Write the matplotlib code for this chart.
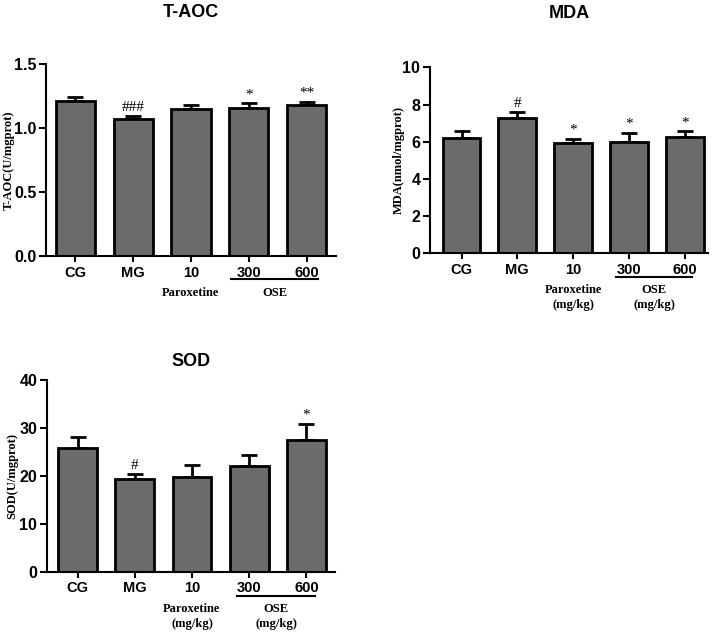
import matplotlib
matplotlib.use("Agg")
import matplotlib.pyplot as plt
import matplotlib.transforms as mtransforms

# Dados
groups = ["CG", "MG", "10", "300", "600"]

taoc_mean = [1.213, 1.068, 1.148, 1.156, 1.177]
taoc_err = [0.031, 0.026, 0.032, 0.037, 0.026]
taoc_marks = ["", "###", "", "*", "**"]

mda_mean = [6.21, 7.29, 5.95, 6.00, 6.27]
mda_err = [0.38, 0.32, 0.21, 0.48, 0.30]
mda_marks = ["", "#", "*", "*", "*"]

sod_mean = [25.9, 19.3, 19.75, 22.05, 27.6]
sod_err = [2.2, 1.2, 2.5, 2.3, 3.4]
sod_marks = ["", "#", "", "", "*"]

SANS = "Liberation Sans"
SERIF = "Liberation Serif"
BAR_COLOR = "#6b6b6b"


def draw_panel(ax, means, errs, marks, ylim, yticks, yticklabels, ylabel, label_x,
               title, title_y, xlim, line_x, line_y, text_y, mgkg):
    x = list(range(len(groups)))
    ax.bar(x, means, width=0.68, color=BAR_COLOR, edgecolor="black", linewidth=2.0, zorder=2)
    ax.errorbar(x, means, yerr=[[0] * len(errs), errs], fmt="none", ecolor="black",
                elinewidth=2.0, capsize=5.5, capthick=2.0, zorder=1)

    # marcadores de significancia
    span = ylim[1] - ylim[0]
    for xi, m, e, s in zip(x, means, errs, marks):
        if s:
            ax.text(xi, m + e + span * 0.01, s, ha="center", va="bottom",
                    family=SERIF, fontsize=11)

    ax.set_xlim(*xlim)
    ax.set_ylim(*ylim)
    ax.set_yticks(yticks)
    ax.set_yticklabels(yticklabels, family=SANS, fontweight="bold", fontsize=11.5)
    ax.set_xticks(x)
    ax.set_xticklabels(groups, family=SANS, fontweight="bold", fontsize=10.5)
    ax.tick_params(axis="y", direction="out", length=5, width=1.5, pad=2)
    ax.tick_params(axis="x", direction="out", length=4, width=1.5, pad=3)
    ax.spines["top"].set_visible(False)
    ax.spines["right"].set_visible(False)
    ax.spines["left"].set_linewidth(1.5)
    ax.spines["bottom"].set_linewidth(1.5)
    ax.set_ylabel(ylabel, family=SERIF, fontweight="bold", fontsize=9)
    ax.yaxis.set_label_coords(label_x, 0.5)
    ax.set_title(title, family=SANS, fontweight="bold", fontsize=13, y=title_y)

    # linha sob 300 e 600 e nomes dos grupos
    trans = mtransforms.blended_transform_factory(ax.transData, ax.transAxes)
    ax.plot(line_x, [line_y, line_y], color="black", lw=1.5, transform=trans, clip_on=False)
    par = "Paroxetine\n(mg/kg)" if mgkg else "Paroxetine"
    ose = "OSE\n(mg/kg)" if mgkg else "OSE"
    ax.text(2, text_y, par, transform=trans, ha="center", va="top", family=SERIF,
            fontweight="bold", fontsize=9, linespacing=1.35)
    ax.text((line_x[0] + line_x[1]) / 2, text_y, ose, transform=trans, ha="center", va="top",
            family=SERIF, fontweight="bold", fontsize=9, linespacing=1.35)


fig = plt.figure(figsize=(7.15, 6.35), dpi=100)

ax1 = fig.add_axes([0.0643, 0.5969, 0.4056, 0.3024])
draw_panel(ax1, taoc_mean, taoc_err, taoc_marks, (0, 1.5), [0.0, 0.5, 1.0, 1.5],
           ["0.0", "0.5", "1.0", "1.5"], "T-AOC(U/mgprot)", -0.108,
           "T-AOC", 1.2, (-0.51, 4.51), [2.7, 4.2], -0.118, -0.16, False)

ax2 = fig.add_axes([0.6014, 0.6011, 0.3888, 0.2929])
draw_panel(ax2, mda_mean, mda_err, mda_marks, (0, 10), [0, 2, 4, 6, 8, 10],
           ["0", "2", "4", "6", "8", "10"], "MDA(nmol/mgprot)", -0.09,
           "MDA", 1.22, (-0.565, 4.42), [2.77, 4.14], -0.128, -0.165, True)

ax3 = fig.add_axes([0.0657, 0.0997, 0.4028, 0.3011])
draw_panel(ax3, sod_mean, sod_err, sod_marks, (0, 40), [0, 10, 20, 30, 40],
           ["0", "10", "20", "30", "40"], "SOD(U/mgprot)", -0.1,
           "SOD", 1.03, (-0.535, 4.5), [2.79, 4.15], -0.128, -0.165, True)

fig.savefig("out.png", dpi=100)
